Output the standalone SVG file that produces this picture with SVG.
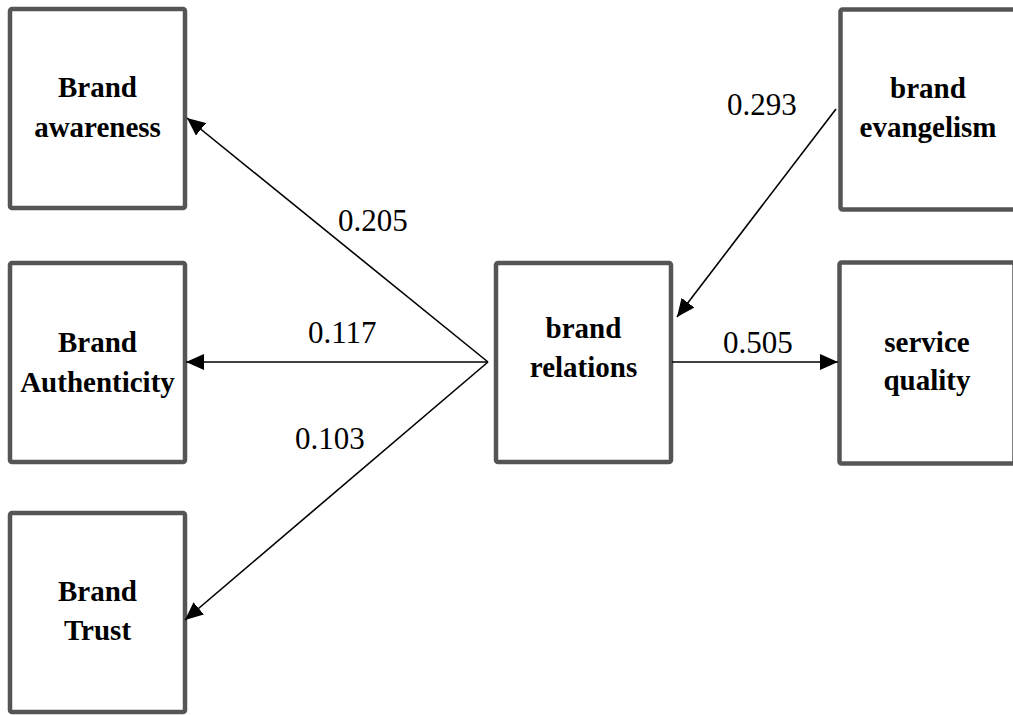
<svg xmlns="http://www.w3.org/2000/svg" width="1013" height="715" viewBox="0 0 1013 715">
  <style>
    .box { fill: #ffffff; stroke: #555555; stroke-width: 4.5; }
    .lbl { font-family: "Liberation Serif", "Times New Roman", serif; font-weight: bold; font-size: 29px; fill: #000; text-anchor: middle; }
    .coef { font-family: "Liberation Serif", "Times New Roman", serif; font-size: 31px; fill: #000; }
    .edge { stroke: #000; stroke-width: 1.6; fill: none; marker-end: url(#arrow); }
  </style>
  <defs>
    <marker id="arrow" markerUnits="userSpaceOnUse" markerWidth="20" markerHeight="16" viewBox="0 0 20 16" refX="18" refY="8" orient="auto">
      <path d="M0,0 L18,8 L0,16 Z" fill="#000"/>
    </marker>
  </defs>
  <rect width="1013" height="715" fill="#ffffff"/>

  <g id="brand-awareness">
    <rect class="box" x="10" y="9" width="175" height="199" rx="2"/>
    <text class="lbl" x="97.5" y="97">Brand</text>
    <text class="lbl" x="97.5" y="137">awareness</text>
  </g>
  <g id="brand-authenticity">
    <rect class="box" x="10" y="263" width="175" height="199" rx="2"/>
    <text class="lbl" x="97.5" y="352">Brand</text>
    <text class="lbl" x="97.5" y="392">Authenticity</text>
  </g>
  <g id="brand-trust">
    <rect class="box" x="10" y="513" width="175" height="199" rx="2"/>
    <text class="lbl" x="97.5" y="601">Brand</text>
    <text class="lbl" x="97.5" y="640">Trust</text>
  </g>
  <g id="brand-relations">
    <rect class="box" x="496" y="263" width="175" height="199" rx="2"/>
    <text class="lbl" x="583.5" y="338">brand</text>
    <text class="lbl" x="583.5" y="377">relations</text>
  </g>
  <g id="brand-evangelism">
    <rect class="box" x="840.5" y="9.5" width="175" height="200" rx="2"/>
    <text class="lbl" x="928" y="98">brand</text>
    <text class="lbl" x="928" y="137">evangelism</text>
  </g>
  <g id="service-quality">
    <rect class="box" x="839.5" y="262.5" width="175" height="201" rx="2"/>
    <text class="lbl" x="927" y="352">service</text>
    <text class="lbl" x="927" y="390">quality</text>
  </g>

  <g id="connectors">
    <line class="edge" x1="488" y1="362" x2="187" y2="118"/>
    <line class="edge" x1="488" y1="362" x2="186" y2="362"/>
    <line class="edge" x1="488" y1="362" x2="185" y2="620"/>
    <line class="edge" x1="836" y1="109" x2="677" y2="317"/>
    <line class="edge" x1="672" y1="362" x2="838" y2="362"/>
    <text class="coef" x="338" y="231">0.205</text>
    <text class="coef" x="308" y="343">0.117</text>
    <text class="coef" x="295" y="449">0.103</text>
    <text class="coef" x="727" y="115">0.293</text>
    <text class="coef" x="723" y="353">0.505</text>
  </g>
</svg>
